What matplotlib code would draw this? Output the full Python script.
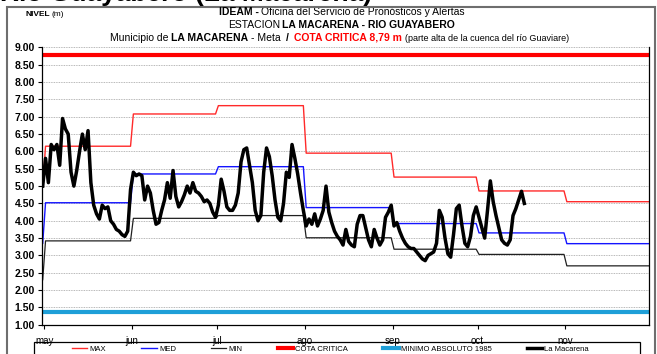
import numpy as np
import matplotlib.pyplot as plt
from matplotlib.patches import Rectangle

plt.rcParams['font.family'] = ['Liberation Sans', 'DejaVu Sans']

# meses del periodo (may - nov) y niveles de referencia mensuales (m)
meses = ['may', 'jun', 'jul', 'ago', 'sep', 'oct', 'nov']
dias_mes = [31, 30, 31, 31, 30, 31, 30]
nivel_max = [6.15, 7.08, 7.32, 5.95, 5.26, 4.86, 4.55]
nivel_med = [4.52, 5.35, 5.56, 4.38, 3.92, 3.65, 3.34]
nivel_min = [3.42, 4.07, 4.15, 3.51, 3.18, 3.03, 2.70]
# primer valor de cada serie (30 abr)
inicio_max, inicio_med, inicio_min = 5.0, 3.35, 2.3
cota_critica = 8.79
minimo_absoluto = 1.37

# nivel diario estacion La Macarena desde el 30 abr
la_macarena = [
    5.0, 5.8, 5.1, 6.2, 6.05, 6.2, 5.6, 6.95, 6.65, 6.5,
    5.4, 5.0, 5.45, 6.0, 6.5, 6.05, 6.6, 5.1, 4.45, 4.2,
    4.05, 4.45, 4.35, 4.4, 4.0, 3.9, 3.75, 3.7, 3.6, 3.55,
    3.7, 4.9, 5.4, 5.3, 5.35, 5.3, 4.6, 5.0, 4.8, 4.3,
    3.9, 3.95, 4.3,
    4.6, 5.1, 4.65, 5.45, 4.7, 4.4, 4.55, 4.75, 5.0, 4.8,
    5.1, 4.85, 4.8, 4.7, 4.55, 4.6, 4.5, 4.25, 4.1, 4.45,
    5.2, 4.85, 4.4, 4.3, 4.3, 4.45, 4.8, 5.7, 6.05, 6.1,
    5.6, 5.1, 4.3, 4.0, 4.15, 5.4, 6.1, 5.85, 5.3, 4.6,
    4.1, 4.0, 4.5, 5.4, 5.25, 6.2, 5.8, 5.35, 4.8, 4.3,
    3.85, 4.05, 3.9, 4.2, 3.85, 4.05,
    4.3, 5.0, 4.25, 3.95, 3.7, 3.55, 3.45, 3.3, 3.75, 3.4,
    3.3, 3.25, 3.9, 4.15, 4.15, 3.8, 3.45, 3.25, 3.75, 3.5,
    3.3, 3.45, 4.1, 4.25, 4.45, 3.85, 3.95, 3.7, 3.5, 3.35,
    3.25, 3.2, 3.2, 3.1, 3.0, 2.9, 2.85, 3.0, 3.05, 3.1,
    3.35, 4.3, 4.1, 3.5, 3.05, 2.95, 3.6, 4.35, 4.45, 3.85,
    3.35, 3.25, 3.55, 4.15, 4.4, 4.1, 3.8,
    3.5, 4.3, 5.15, 4.55, 4.15, 3.8, 3.45, 3.35, 3.3, 3.45,
    4.15, 4.35, 4.6, 4.85, 4.5,
]

# series diarias de referencia (un valor por dia, al mediodia)
serie_max = np.concatenate([[inicio_max], np.repeat(nivel_max, dias_mes)])
serie_med = np.concatenate([[inicio_med], np.repeat(nivel_med, dias_mes)])
serie_min = np.concatenate([[inicio_min], np.repeat(nivel_min, dias_mes)])
t_ref = np.arange(len(serie_max)) - 0.5
t_obs = np.arange(len(la_macarena)) - 0.5
inicio_meses = np.cumsum([0] + dias_mes[:-1])

fig = plt.figure(figsize=(6.57, 3.54), dpi=100)
W, H = 657.0, 354.0
ax = fig.add_axes([42 / W, 1 - 324.8 / H, (649 - 42) / W, (324.8 - 47.4) / H])

ax.plot(t_ref, serie_max, color='#ff2a2a', lw=1.0, label='MAX')
ax.plot(t_ref, serie_med, color='#1414ff', lw=1.0, label='MED')
ax.plot(t_ref, serie_min, color='#202020', lw=0.9, label='MIN')
ax.plot([t_ref[0], t_ref[-1]], [cota_critica] * 2, color='#ff0000', lw=3, label='COTA CRITICA')
ax.plot([t_ref[0], t_ref[-1]], [minimo_absoluto] * 2, color='#1e9fd8', lw=3,
        label='MINIMO ABSOLUTO 1985')
ax.plot(t_obs, la_macarena, color='black', lw=2.5, label='La Macarena',
        solid_joinstyle='round')

ax.set_xlim(-0.75, 213.5)
ax.set_ylim(1, 9)
ax.set_xticks(inicio_meses)
ax.set_xticklabels(meses, fontsize=7)
ax.set_yticks(np.arange(1, 9.01, 0.5))
ax.set_yticklabels(['%.2f' % v for v in np.arange(1, 9.01, 0.5)],
                   fontsize=7.5, fontweight='bold')
ax.tick_params(axis='both', direction='out', length=3, width=0.8, pad=2)
ax.tick_params(axis='x', pad=5)
ax.yaxis.grid(True, linestyle=(0, (1, 1)), color='#a0a0a0', lw=0.6)
ax.set_axisbelow(True)
for lado in ['left', 'bottom', 'right']:
    ax.spines[lado].set_linewidth(0.9)
    ax.spines[lado].set_color('black')
ax.spines['top'].set_visible(False)

# marco exterior del grafico
fig.patches.append(Rectangle((7 / W, -0.05), 648 / W, 1.05 - 7 / H, transform=fig.transFigure,
                             fill=False, edgecolor='#6e6e6e', lw=1.5))

# titulo grande, solo asoma la parte baja
fig.text(0.0, 1 - 1 / H, 'Río Guayabero (La Macarena)', fontsize=19, fontweight='bold',
         va='baseline', ha='left')


def encadenar(x, y, partes):
    # escribe trozos de texto uno detras de otro con estilos distintos
    prev = fig.text(x / W, 1 - y / H, partes[0][0], va='baseline', **partes[0][1])
    for s, gap, kw in partes[1:]:
        prev = ax.annotate(s, xy=(1, 0), xycoords=prev, xytext=(gap, 0),
                           textcoords='offset points', va='bottom',
                           annotation_clip=False, **kw)


fs = 7.5
encadenar(25, 16, [('NIVEL', dict(fontsize=6, fontweight='bold')),
                   ('(m)', 1.6, dict(fontsize=6))])
encadenar(219, 15, [('IDEAM -', dict(fontsize=fs, fontweight='bold')),
                    ('Oficina del Servicio de Pronósticos y Alertas', 1.8, dict(fontsize=fs))])
encadenar(228, 28, [('ESTACION', dict(fontsize=fs)),
                    ('LA MACARENA - RIO GUAYABERO', 1.0, dict(fontsize=fs, fontweight='bold'))])
encadenar(110, 41, [('Municipio de', dict(fontsize=fs)),
                    ('LA MACARENA', 1.8, dict(fontsize=fs, fontweight='bold')),
                    ('- Meta', 1.8, dict(fontsize=fs)),
                    ('/', 4, dict(fontsize=fs, fontweight='bold')),
                    ('COTA CRITICA 8,79 m', 4, dict(fontsize=fs, fontweight='bold', color='#ff0000')),
                    ('(parte alta de la cuenca del río Guaviare)', 2.0, dict(fontsize=6.5))])

# leyenda en recuadro inferior
fig.patches.append(Rectangle((34 / W, -0.05), (640 - 34) / W, 0.05 + 1 - 342 / H,
                             transform=fig.transFigure, fill=False, edgecolor='black', lw=0.9))
ax.legend(loc='center left', bbox_to_anchor=(72 / W, 1 - 349 / H),
          bbox_transform=fig.transFigure, ncol=6, frameon=False, fontsize=5.5,
          handlelength=2.0, handletextpad=0.3, columnspacing=4.6, borderpad=0,
          borderaxespad=0)

fig.savefig('out.png', dpi=100)
